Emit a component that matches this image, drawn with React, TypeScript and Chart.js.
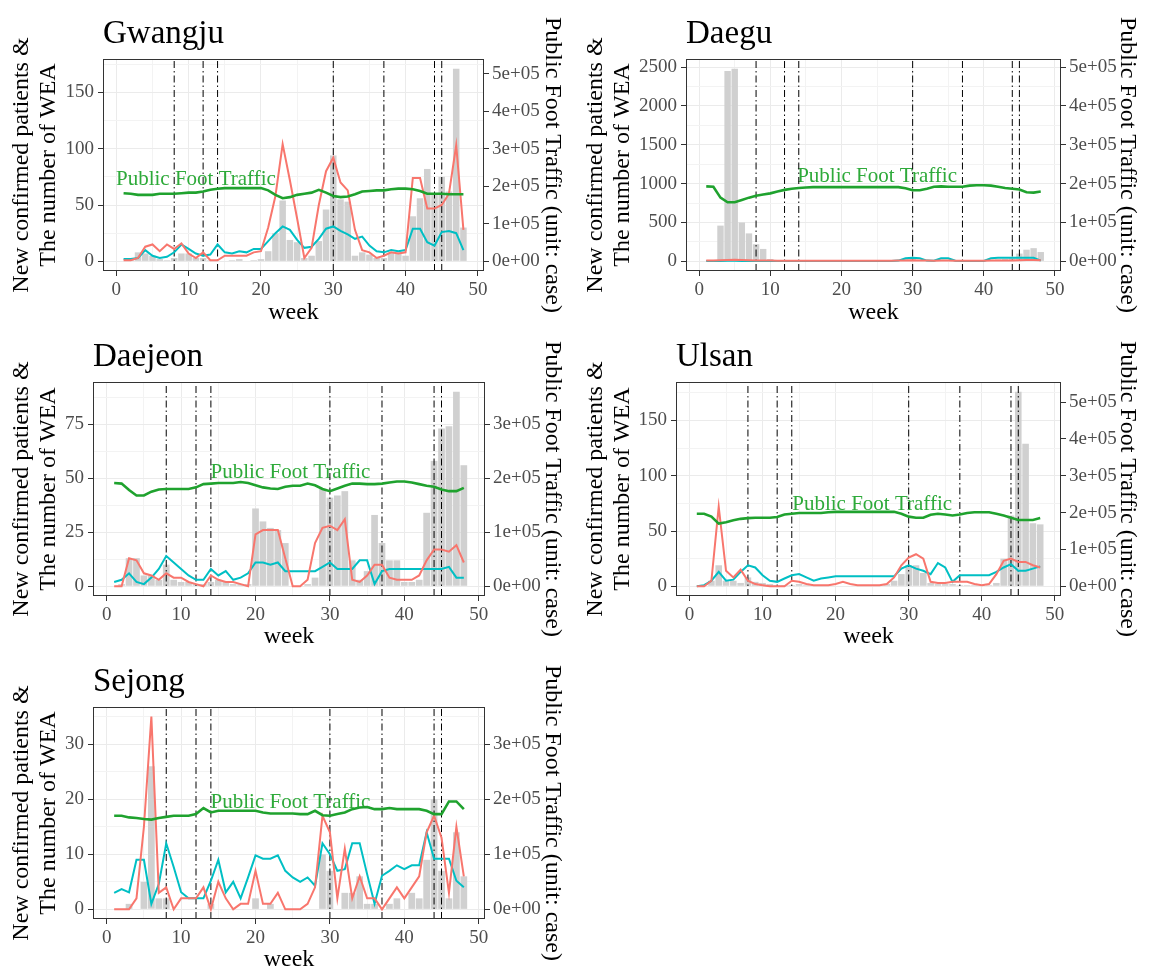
import React, { useEffect, useRef } from "react";
import { Chart, registerables } from "chart.js";

Chart.register(...registerables);

// ---------------- DATA ----------------
const weeks = [
  1, 2, 3, 4, 5, 6, 7, 8, 9, 10, 11, 12, 13, 14, 15, 16, 17, 18, 19, 20, 21, 22, 23, 24,
  25, 26, 27, 28, 29, 30, 31, 32, 33, 34, 35, 36, 37, 38, 39, 40, 41, 42, 43, 44, 45, 46, 47, 48,
];
const interventionWeeks = [8, 12, 14, 30, 37, 44, 45];

const regionNames = ["Gwangju", "Daegu", "Daejeon", "Ulsan", "Sejong"];

// Gray bars: new confirmed patients
const gwangjuBars = [0, 1, 8, 7, 5, 2, 1, 3, 7, 7, 3, 3, 1, 0, 0, 1, 2, 0, 1, 2, 9, 25, 54, 19, 17, 3, 5, 18, 46, 94, 55, 53, 5, 8, 6, 3, 3, 8, 8, 5, 40, 56, 82, 60, 75, 62, 171, 30];
const daeguBars = [0, 0, 460, 2450, 2480, 500, 360, 220, 160, 30, 10, 5, 3, 5, 3, 3, 3, 3, 3, 3, 3, 3, 3, 3, 3, 3, 3, 10, 30, 50, 20, 10, 5, 20, 10, 5, 5, 5, 5, 10, 20, 25, 30, 40, 100, 150, 170, 120];
const daejeonBars = [0, 1, 13, 13, 5, 5, 3, 10, 3, 2, 2, 1, 1, 2, 3, 2, 1, 1, 1, 36, 30, 27, 26, 20, 0, 0, 1, 4, 45, 41, 42, 44, 12, 3, 7, 33, 20, 12, 12, 2, 2, 3, 34, 58, 73, 74, 90, 56];
const ulsanBars = [0, 0, 5, 19, 5, 5, 3, 8, 4, 3, 2, 1, 1, 1, 2, 1, 1, 1, 0, 0, 0, 0, 0, 1, 1, 1, 2, 5, 11, 19, 19, 12, 3, 2, 2, 2, 1, 1, 1, 1, 1, 3, 25, 64, 176, 129, 57, 56];
const sejongBars = [0, 0, 1, 0, 5, 26, 2, 2, 0, 0, 0, 0, 0, 1, 0, 0, 0, 0, 0, 2, 0, 1, 0, 0, 0, 0, 0, 0, 10, 7, 0, 3, 3, 6, 1, 1, 0, 1, 2, 0, 3, 2, 9, 20, 7, 2, 14, 6];

// Red line
const gwangjuRed = [1, 1, 3, 13, 15, 9, 15, 11, 16, 7, 3, 8, 1, 1, 5, 5, 5, 5, 8, 9, 30, 58, 104, 72, 38, 3, 12, 50, 80, 92, 70, 63, 28, 10, 8, 3, 5, 8, 7, 8, 74, 74, 47, 47, 50, 60, 103, 28];
const daeguRed = [12, 12, 14, 18, 20, 18, 15, 12, 10, 10, 8, 8, 8, 8, 8, 8, 8, 8, 8, 8, 8, 8, 8, 8, 8, 8, 8, 10, 12, 14, 12, 10, 8, 10, 10, 8, 8, 8, 8, 8, 10, 10, 12, 12, 14, 16, 16, 14];
const daejeonRed = [0, 0, 13, 12, 6, 5, 3, 6, 4, 4, 2, 1, 0, 5, 3, 2, 2, 1, 0, 24, 26, 26, 26, 13, 0, 0, 3, 20, 27, 28, 26, 31, 3, 2, 5, 10, 10, 4, 3, 3, 3, 5, 12, 17, 17, 16, 19, 11];
const ulsanRed = [0, 0, 5, 72, 14, 8, 15, 5, 2, 1, 0, 0, 0, 5, 4, 2, 1, 1, 1, 2, 4, 2, 1, 1, 1, 1, 2, 8, 19, 26, 29, 25, 4, 3, 3, 4, 4, 4, 2, 1, 2, 11, 23, 25, 22, 22, 19, 17];
const sejongRed = [0, 0, 0, 2, 15, 35, 3, 4, 0, 2, 2, 2, 4, 0, 5, 2, 0, 1, 1, 7, 1, 1, 3, 0, 0, 0, 1, 4, 17, 14, 2, 11, 2, 6, 2, 2, 0, 2, 4, 2, 4, 6, 14, 17, 13, 3, 15, 6];

// Teal line
const gwangjuTeal = [2, 2, 3, 10, 5, 3, 4, 8, 15, 11, 7, 5, 6, 15, 8, 7, 9, 8, 11, 11, 18, 25, 31, 28, 19, 12, 13, 20, 29, 31, 27, 24, 20, 22, 14, 9, 8, 10, 9, 10, 29, 29, 17, 14, 26, 27, 25, 10];
const daeguTeal = [5, 5, 5, 8, 8, 6, 5, 5, 5, 5, 5, 5, 5, 5, 5, 5, 5, 5, 5, 5, 5, 5, 5, 5, 5, 5, 5, 10, 40, 45, 40, 10, 8, 40, 40, 8, 5, 5, 5, 5, 40, 45, 45, 45, 45, 45, 45, 10];
const daejeonTeal = [2, 3, 6, 2, 1, 4, 8, 14, 11, 8, 5, 3, 3, 8, 5, 7, 3, 4, 6, 11, 11, 10, 11, 7, 7, 7, 7, 7, 9, 11, 8, 8, 8, 12, 12, 1, 7, 8, 8, 8, 8, 8, 8, 8, 8, 9, 4, 4];
const ulsanTeal = [0, 1, 5, 13, 5, 6, 13, 19, 17, 10, 5, 4, 7, 10, 11, 8, 5, 7, 8, 9, 9, 9, 9, 9, 9, 9, 9, 9, 16, 19, 16, 14, 11, 21, 17, 4, 10, 10, 10, 10, 10, 13, 17, 20, 14, 14, 16, 18];
const sejongTeal = [3, 3.7, 3.1, 9, 9, 1, 4.6, 12, 7.7, 3.1, 2, 2, 2, 5.2, 9, 3.1, 5, 2, 5.8, 9.8, 9.2, 9.2, 9.8, 7, 5.8, 5, 5.8, 4.3, 12, 10, 7, 7.3, 12, 12, 6.4, 1, 6.1, 7, 8, 7.3, 8, 8, 14, 9.2, 9.2, 9.2, 5.2, 4];

// Green line: public foot traffic (cases)
const gwangjuTraffic = [181500, 180000, 177000, 177000, 177000, 180000, 180000, 180000, 181500, 183000, 183000, 186000, 190500, 193500, 195000, 195000, 195000, 195000, 195000, 195000, 189000, 177000, 168000, 171000, 177000, 180000, 183000, 190500, 183000, 174000, 171000, 172500, 178500, 186000, 187500, 189000, 189000, 192000, 193500, 193500, 192000, 187500, 180000, 180000, 180000, 178500, 178500, 178500];
const daeguTraffic = [193000, 192000, 164000, 152000, 152000, 158000, 164000, 169000, 172000, 175000, 180000, 184000, 187000, 189000, 190000, 191000, 191000, 191000, 191000, 191000, 191000, 191000, 191000, 191000, 191000, 191000, 191000, 191000, 188000, 183000, 183000, 187000, 192000, 193000, 192000, 192000, 192000, 195000, 196000, 196000, 195000, 192000, 189000, 187000, 185000, 178000, 177000, 180000];
const daejeonTraffic = [191000, 190000, 178000, 168000, 168000, 175000, 179000, 180000, 180000, 180000, 180000, 183000, 189000, 190000, 191000, 191000, 191000, 193000, 191000, 187000, 183000, 181000, 180000, 184000, 186000, 186000, 190000, 187000, 180000, 176000, 181000, 186000, 190000, 190000, 189000, 189000, 190000, 192000, 194000, 194000, 192000, 189000, 186000, 184000, 179000, 176000, 176000, 182000];
const ulsanTraffic = [197000, 197000, 189000, 170000, 174000, 179000, 183000, 185000, 186000, 186000, 186000, 188000, 195000, 197000, 199000, 199000, 199000, 199000, 201000, 202000, 202000, 202000, 202000, 202000, 202000, 202000, 202000, 202000, 197000, 189000, 186000, 186000, 194000, 197000, 195000, 192000, 195000, 199000, 201000, 201000, 201000, 197000, 192000, 186000, 180000, 180000, 180000, 185000];
const sejongTraffic = [170000, 170000, 167000, 166000, 164000, 163000, 166000, 168000, 170000, 170000, 170000, 173000, 184000, 176000, 179000, 179000, 179000, 179000, 179000, 179000, 176000, 174000, 174000, 174000, 174000, 173000, 173000, 179000, 171000, 170000, 173000, 176000, 182000, 185000, 186000, 182000, 182000, 184000, 182000, 182000, 182000, 182000, 179000, 173000, 173000, 196000, 196000, 182000];

// Secondary-axis scale factor (traffic per left-axis unit)
const trafficFactor = [3000, 200, 4000, 3000, 10000];
// Major break spacing of left axis
const leftMajorStep = [50, 500, 25, 50, 10];
// Break spacing of week axis and traffic axis
const weekMajorStep = 10;
const trafficStep = 100000;
// "Public Foot Traffic" annotation position (week, traffic)
const labelWeek = [11, 25, 24.7, 25, 24.7];
const labelTraffic = [217000, 218000, 211000, 222000, 194000];

const barsList = [gwangjuBars, daeguBars, daejeonBars, ulsanBars, sejongBars];
const redList = [gwangjuRed, daeguRed, daejeonRed, ulsanRed, sejongRed];
const tealList = [gwangjuTeal, daeguTeal, daejeonTeal, ulsanTeal, sejongTeal];
const trafficList = [gwangjuTraffic, daeguTraffic, daejeonTraffic, ulsanTraffic, sejongTraffic];

// ---------------- LAYOUT (page pixels) ----------------
const layouts = [
  { cx: 0, cy: 0, cw: 574, L: 103, R: 484, T: 59, B: 271, weekY: 313 },
  { cx: 574, cy: 0, cw: 575, L: 686, R: 1061, T: 59, B: 271, weekY: 313 },
  { cx: 0, cy: 328, cw: 574, L: 93, R: 485, T: 382, B: 596, weekY: 637 },
  { cx: 574, cy: 328, cw: 575, L: 676, R: 1061, T: 382, B: 596, weekY: 637 },
  { cx: 0, cy: 652, cw: 574, L: 93, R: 485, T: 707, B: 919, weekY: 960 },
];

const SERIF = '"Liberation Serif", "Times New Roman", "DejaVu Serif", serif';
const RED = "#F8766D";
const TEAL = "#00BFC4";
const GREEN = "#1FA22E";
const GREEN_TEXT = "#2EAA3A";
const BAR = "#D0D0D0";
const GRID_MAJOR = "#EBEBEB";
const GRID_MINOR = "#F3F3F3";
const AXIS_DARK = "#333333";
const TICK_TEXT = "#4D4D4D";

const TITLE_FONT = 24;
const TITLE_LH = 1.1;

function sciLabel(v: number): string {
  if (Math.abs(v) < 1e-9) return "0e+00";
  const e = Math.floor(Math.log10(Math.abs(v)) + 1e-9);
  const m = Math.round((v / Math.pow(10, e)) * 100) / 100;
  return `${m}e+${String(e).padStart(2, "0")}`;
}

function ticksWithin(min: number, max: number, step: number) {
  const out: { value: number }[] = [];
  const start = Math.ceil(min / step - 1e-9);
  const end = Math.floor(max / step + 1e-9);
  for (let i = start; i <= end; i++) out.push({ value: Math.round(i * step * 1e6) / 1e6 });
  return out;
}

const isMajor = (v: number, step: number) => Math.abs(v / step - Math.round(v / step)) < 1e-6;

const decorPlugin = {
  id: "decor",
  beforeDatasetsDraw(chart: any, _args: any, opts: any) {
    const { ctx, scales } = chart;
    ctx.save();
    ctx.font = `21px ${SERIF}`;
    ctx.fillStyle = GREEN_TEXT;
    ctx.textAlign = "center";
    ctx.textBaseline = "middle";
    ctx.fillText("Public Foot Traffic", scales.x.getPixelForValue(opts.labelX), scales.y2.getPixelForValue(opts.labelY));
    ctx.restore();
  },
  afterDatasetsDraw(chart: any, _args: any, opts: any) {
    const { ctx, chartArea } = chart;
    ctx.save();
    ctx.strokeStyle = AXIS_DARK;
    ctx.lineWidth = 1;
    ctx.strokeRect(chartArea.left + 0.5, chartArea.top + 0.5, chartArea.right - chartArea.left - 1, chartArea.bottom - chartArea.top - 1);
    ctx.font = `33px ${SERIF}`;
    ctx.fillStyle = "#000";
    ctx.textAlign = "left";
    ctx.textBaseline = "alphabetic";
    ctx.fillText(opts.title, chartArea.left, chartArea.top - 16);
    ctx.restore();
  },
};

function Panel({ idx }: { idx: number }) {
  const ref = useRef<HTMLCanvasElement | null>(null);
  const lay = layouts[idx];
  const ch = lay.weekY + 20 - lay.cy;

  useEffect(() => {
    if (!ref.current) return;
    const bars = barsList[idx];
    const red = redList[idx];
    const teal = tealList[idx];
    const traffic = trafficList[idx];
    const k = trafficFactor[idx];
    const major = leftMajorStep[idx];

    const R = Math.max(...bars, ...red, ...teal, ...traffic.map((t) => t / k));
    const yMin = -0.05 * R;
    const yMax = 1.05 * R;
    const wFirst = weeks[0] - 0.45;
    const wLast = weeks[weeks.length - 1] + 0.45;
    const xPad = 0.05 * (wLast - wFirst);
    const xMin = wFirst - xPad;
    const xMax = wLast + xPad;

    const vlineSets = interventionWeeks.map((w) => ({
      type: "line" as const,
      data: [
        { x: w, y: yMin },
        { x: w, y: yMax },
      ],
      borderColor: "#000",
      borderWidth: 1,
      borderDash: [7, 3, 1.5, 3],
      pointRadius: 0,
      yAxisID: "y",
      order: 4,
    }));

    const titleLH = TITLE_FONT * TITLE_LH;
    const sidePad = 22 - titleLH / 2;

    const chart = new Chart(ref.current, {
      type: "line",
      data: {
        datasets: [
          {
            type: "bar",
            data: weeks.map((w, i) => ({ x: w, y: bars[i] })),
            backgroundColor: BAR,
            borderWidth: 0,
            barPercentage: 0.9,
            categoryPercentage: 1,
            yAxisID: "y",
            order: 10,
          } as any,
          ...vlineSets,
          {
            type: "line",
            data: weeks.map((w, i) => ({ x: w, y: teal[i] })),
            borderColor: TEAL,
            borderWidth: 2,
            pointRadius: 0,
            tension: 0,
            yAxisID: "y",
            order: 3,
          },
          {
            type: "line",
            data: weeks.map((w, i) => ({ x: w, y: red[i] })),
            borderColor: RED,
            borderWidth: 2,
            pointRadius: 0,
            tension: 0,
            yAxisID: "y",
            order: 2,
          },
          {
            type: "line",
            data: weeks.map((w, i) => ({ x: w, y: traffic[i] })),
            borderColor: GREEN,
            borderWidth: 2.6,
            pointRadius: 0,
            tension: 0,
            yAxisID: "y2",
            order: 1,
          },
        ],
      },
      options: {
        responsive: false,
        animation: false,
        events: [],
        devicePixelRatio: 1,
        layout: { padding: { top: lay.T - lay.cy, left: 0, right: 0, bottom: 0 } },
        plugins: {
          legend: { display: false },
          tooltip: { enabled: false },
          decor: { title: regionNames[idx], labelX: labelWeek[idx], labelY: labelTraffic[idx] },
        } as any,
        scales: {
          x: {
            type: "linear",
            position: "bottom",
            min: xMin,
            max: xMax,
            offset: false,
            border: { display: false },
            afterBuildTicks: (s: any) => {
              s.ticks = ticksWithin(xMin, xMax, weekMajorStep / 2);
            },
            grid: {
              offset: false,
              color: (c: any) => (c.tick && isMajor(c.tick.value, weekMajorStep) ? GRID_MAJOR : GRID_MINOR),
              tickColor: (c: any) => (c.tick && isMajor(c.tick.value, weekMajorStep) ? AXIS_DARK : "rgba(0,0,0,0)"),
              tickLength: 5,
              lineWidth: 1,
            },
            ticks: {
              autoSkip: false,
              maxRotation: 0,
              padding: 3,
              color: TICK_TEXT,
              font: { family: SERIF, size: 19 },
              callback: (v: any) => (isMajor(Number(v), weekMajorStep) ? String(v) : ""),
            },
            title: {
              display: true,
              text: "week",
              color: "#000",
              font: { family: SERIF, size: TITLE_FONT, lineHeight: TITLE_LH },
              padding: { top: 0, bottom: 20 - titleLH / 2 },
            },
            afterFit: (s: any) => {
              s.height = lay.cy + ch - lay.B;
            },
          },
          y: {
            type: "linear",
            position: "left",
            min: yMin,
            max: yMax,
            border: { display: false },
            afterBuildTicks: (s: any) => {
              s.ticks = ticksWithin(yMin, yMax, major / 2);
            },
            grid: {
              color: (c: any) => (c.tick && isMajor(c.tick.value, major) ? GRID_MAJOR : GRID_MINOR),
              tickColor: (c: any) => (c.tick && isMajor(c.tick.value, major) ? AXIS_DARK : "rgba(0,0,0,0)"),
              tickLength: 5,
              lineWidth: 1,
            },
            ticks: {
              autoSkip: false,
              padding: 4,
              color: TICK_TEXT,
              font: { family: SERIF, size: 19 },
              callback: (v: any) => (isMajor(Number(v), major) ? String(v) : ""),
            },
            title: {
              display: true,
              text: ["New confirmed patients &", "The number of WEA"],
              color: "#000",
              font: { family: SERIF, size: TITLE_FONT, lineHeight: TITLE_LH },
              padding: { top: sidePad, bottom: 0 },
            },
            afterFit: (s: any) => {
              s.width = lay.L - lay.cx;
            },
          },
          y2: {
            type: "linear",
            position: "right",
            min: yMin * k,
            max: yMax * k,
            border: { display: false },
            afterBuildTicks: (s: any) => {
              s.ticks = ticksWithin(yMin * k, yMax * k, trafficStep);
            },
            grid: {
              drawOnChartArea: false,
              tickColor: AXIS_DARK,
              tickLength: 5,
            },
            ticks: {
              autoSkip: false,
              padding: 3,
              color: TICK_TEXT,
              font: { family: SERIF, size: 19 },
              callback: (v: any) => sciLabel(Number(v)),
            },
            title: {
              display: true,
              text: "Public Foot Traffic (unit: case)",
              color: "#000",
              font: { family: SERIF, size: TITLE_FONT, lineHeight: TITLE_LH },
              padding: { top: sidePad, bottom: 0 },
            },
            afterFit: (s: any) => {
              s.width = lay.cx + lay.cw - lay.R;
            },
          },
        },
      } as any,
      plugins: [decorPlugin as any],
    });
    return () => chart.destroy();
  }, [idx]);

  return (
    <div style={{ position: "absolute", left: lay.cx, top: lay.cy, width: lay.cw, height: ch }}>
      <canvas ref={ref} width={lay.cw} height={ch} style={{ display: "block", width: lay.cw, height: ch }} />
    </div>
  );
}

export default function App() {
  return (
    <div
      style={{
        position: "absolute",
        left: 0,
        top: 0,
        width: 1149,
        height: 969,
        overflow: "hidden",
        background: "#fff",
      }}
    >
      {regionNames.map((_, i) => (
        <Panel key={i} idx={i} />
      ))}
    </div>
  );
}
